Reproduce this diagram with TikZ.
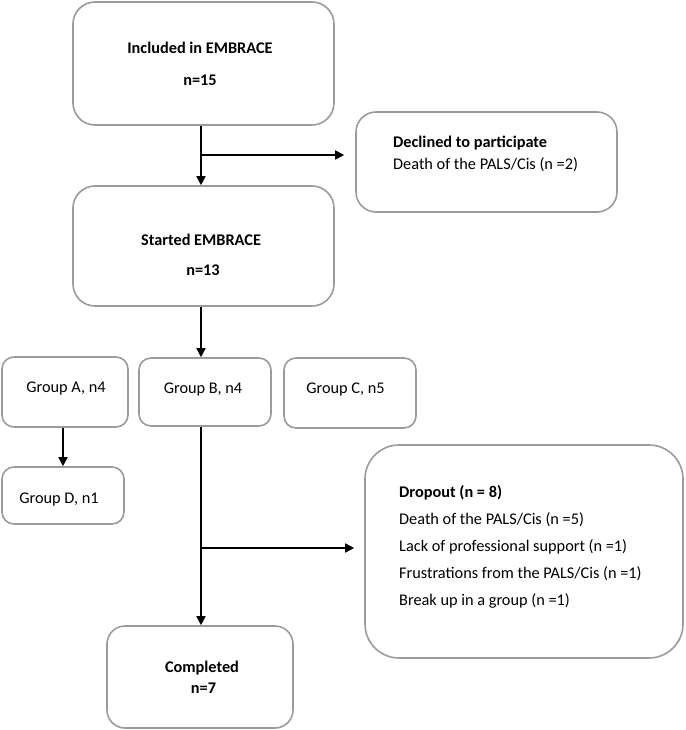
\documentclass[tikz,border=0pt]{standalone}
\usepackage{fontspec}
\setmainfont{Carlito}
\usetikzlibrary{arrows.meta}
\definecolor{boxgray}{RGB}{155,155,155}
\begin{document}
\begin{tikzpicture}[x=1pt,y=-1pt,
  box/.style={draw=boxgray, line width=1.6pt, rounded corners=#1, inner sep=0pt, fill=white},
  box/.default=14pt,
  txt/.style={inner sep=0pt, font=\fontsize{16.3}{19}\selectfont},
  btxt/.style={inner sep=0pt, font=\fontsize{16.3}{19}\selectfont\bfseries},
  arr/.style={draw=black, line width=1.6pt, -{Triangle[length=9pt,width=9pt]}},
  ln/.style={draw=black, line width=1.6pt}]
\useasboundingbox (0,0) rectangle (685,730);

% boxes
\node[box=22pt, minimum width=261pt, minimum height=123pt] (inc) at (203.5,63.5) {};
\node[box=20pt, minimum width=261pt, minimum height=100pt] (dec) at (486.5,162) {};
\node[box=22pt, minimum width=261pt, minimum height=120pt] (st) at (203.5,246) {};
\node[box=12pt, minimum width=126pt, minimum height=70pt] (ga) at (65,392) {};
\node[box=12pt, minimum width=132pt, minimum height=68pt] (gb) at (205,392) {};
\node[box=12pt, minimum width=132pt, minimum height=70pt] (gc) at (350,393) {};
\node[box=12pt, minimum width=122pt, minimum height=57pt] (gd) at (63,495.5) {};
\node[box=34pt, minimum width=318pt, minimum height=213pt] (drop) at (524,551.5) {};
\node[box=18pt, minimum width=186pt, minimum height=102pt] (comp) at (200,677) {};

% texts
\node[btxt] (inct) at (200,48) {Included in EMBRACE};
\node[btxt] (incn) at (200,80) {n=15};
\node[btxt, anchor=west] (dect) at (393,143) {Declined to participate};
\node[txt, anchor=west] (dec1) at (393,165) {Death of the PALS/Cis (n =2)};
\node[btxt] (stt) at (201,240) {Started EMBRACE};
\node[btxt] (stn) at (203,270) {n=13};
\node[txt] (gat) at (66,389) {Group A, n4};
\node[txt] (gbt) at (203,390) {Group B, n4};
\node[txt] (gct) at (345.5,390) {Group C, n5};
\node[txt] (gdt) at (59,500) {Group D, n1};
\node[btxt, anchor=west] (dropt) at (399,493) {Dropout (n = 8)};
\node[txt, anchor=west] (drop1) at (399,520) {Death of the PALS/Cis (n =5)};
\node[txt, anchor=west] (drop2) at (399,547) {Lack of professional support (n =1)};
\node[txt, anchor=west] (drop3) at (399,574) {Frustrations from the PALS/Cis (n =1)};
\node[txt, anchor=west] (drop4) at (399,601) {Break up in a group (n =1)};
\node[btxt] (compt) at (202,668) {Completed};
\node[btxt] (compn) at (203.5,688) {n=7};

% connectors
\coordinate (j1) at (201,155);
\coordinate (j2) at (201,548);
\draw[arr] (j1 |- inc.south) -- (j1 |- st.north);
\draw[arr, shorten >=11pt] (j1) -- (dec.west |- j1);
\draw[arr] (j1 |- st.south) -- (j1 |- gb.north);
\draw[arr] (63,0 |- ga.south) -- (63,0 |- gd.north);
\draw[arr] (j2 |- gb.south) -- (j2 |- comp.north);
\draw[arr, shorten >=10pt] (j2) -- (drop.west |- j2);
\end{tikzpicture}
\end{document}
